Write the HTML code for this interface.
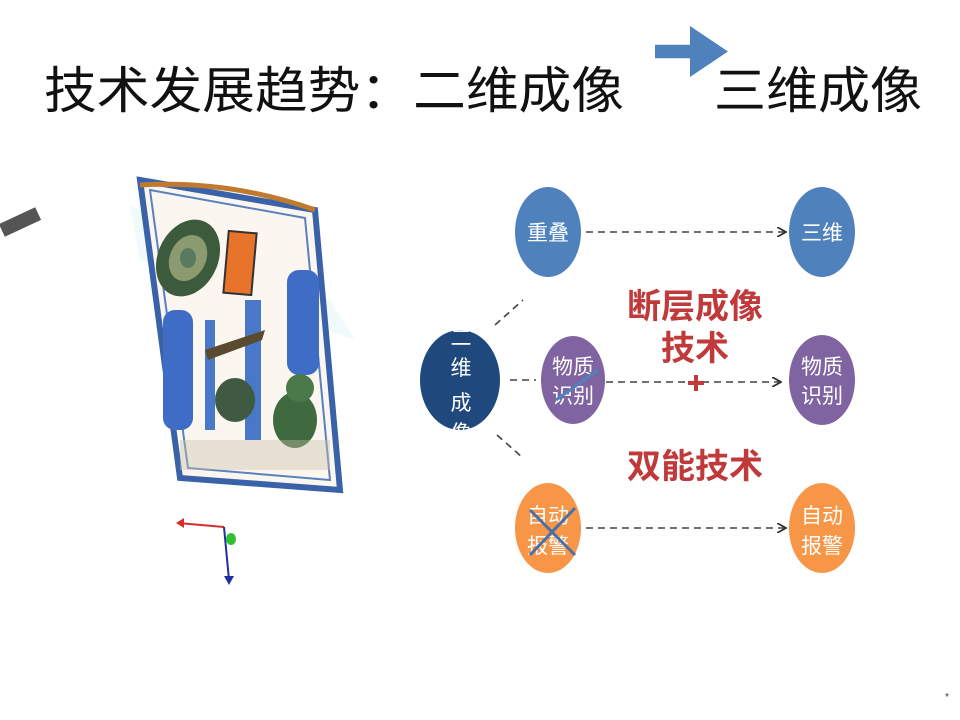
<!DOCTYPE html>
<html><head><meta charset="utf-8"><style>
body{margin:0;background:#fff;}
svg{display:block;font-family:"Liberation Sans","Noto Sans CJK SC",sans-serif;}
</style></head><body>
<svg width="960" height="720" viewBox="0 0 960 720" xmlns="http://www.w3.org/2000/svg">
<defs>
<marker id="ah" markerWidth="10" markerHeight="10" refX="8" refY="5" orient="auto" markerUnits="userSpaceOnUse">
<path d="M0,0 L9,5 L0,10" fill="none" stroke="#333" stroke-width="1.8"/></marker>
</defs>
<!-- title -->
<text x="44" y="108" font-size="50" fill="#111" textLength="580" lengthAdjust="spacingAndGlyphs">技术发展趋势：二维成像</text>
<text x="714" y="108" font-size="50" fill="#111" textLength="208" lengthAdjust="spacingAndGlyphs">三维成像</text>
<polygon points="655,52 690,52 690,30 728,60 690,90 690,68 655,68" fill="#4f81bd" transform="translate(0,-8) scale(1,0.85) translate(0,10)"/>
<!-- suitcase image approximation -->
<g>
<polygon points="130,205 330,300 355,340 140,260" fill="#d8f0f0" opacity="0.35"/>
<polygon points="140,180 315,210 340,490 180,478" fill="#fbf7f0" stroke="#3a62a8" stroke-width="6"/>
<polygon points="150,190 305,218 330,480 188,468" fill="none" stroke="#5a80c0" stroke-width="2"/>
<path d="M140,185 Q230,180 315,210" stroke="#c07a30" stroke-width="5" fill="none"/>
<ellipse cx="188" cy="258" rx="30" ry="40" fill="#3c5a3c" transform="rotate(25 188 258)"/>
<ellipse cx="188" cy="258" rx="18" ry="24" fill="#8c9a70" transform="rotate(25 188 258)"/>
<ellipse cx="188" cy="258" rx="8" ry="10" fill="#5a7a60"/>
<rect x="226" y="232" width="28" height="62" fill="#e8732a" stroke="#333" stroke-width="2" transform="rotate(5 240 263)"/>
<rect x="163" y="310" width="30" height="120" rx="12" fill="#3f6cc4"/>
<rect x="287" y="270" width="32" height="105" rx="12" fill="#3f6cc4"/>
<rect x="245" y="300" width="16" height="140" fill="#4a78c8"/>
<rect x="205" y="320" width="10" height="110" fill="#4a78c8"/>
<path d="M205,350 L265,330 L262,340 L208,360Z" fill="#5a4a30"/>
<ellipse cx="235" cy="400" rx="20" ry="22" fill="#3f5a40"/>
<ellipse cx="295" cy="420" rx="22" ry="28" fill="#3f6a40"/>
<circle cx="300" cy="388" r="14" fill="#4a7a4a"/>
<rect x="180" y="440" width="150" height="30" fill="#c8c0a8" opacity="0.4"/>
<rect x="0" y="215" width="40" height="14" fill="#555" transform="rotate(-25 20 222)"/>
</g>
<!-- axes -->
<line x1="224" y1="527" x2="178" y2="523" stroke="#d43030" stroke-width="2"/>
<path d="M176,523 L184,518 L184,528Z" fill="#d43030"/>
<line x1="224" y1="527" x2="229" y2="580" stroke="#2030a0" stroke-width="2"/>
<path d="M229,585 L224,576 L234,576Z" fill="#2030a0"/>
<ellipse cx="231" cy="539" rx="5" ry="6" fill="#30c030"/>
<!-- connectors -->
<g stroke="#444" stroke-width="1.6" stroke-dasharray="7,5" fill="none">
<line x1="586" y1="232" x2="785" y2="232" marker-end="url(#ah)"/>
<line x1="606" y1="382" x2="780" y2="382" marker-end="url(#ah)"/>
<line x1="586" y1="528" x2="785" y2="528" marker-end="url(#ah)"/>
<line x1="495" y1="325" x2="523" y2="300"/>
<line x1="510" y1="380" x2="536" y2="380"/>
<line x1="497" y1="435" x2="523" y2="458"/>
</g>
<!-- nodes -->
<ellipse cx="548" cy="232" rx="33" ry="45" fill="#4f81bd"/>
<ellipse cx="822" cy="232" rx="33" ry="45" fill="#4f81bd"/>
<ellipse cx="460" cy="380" rx="40" ry="50" fill="#1f497d"/>
<ellipse cx="573" cy="380" rx="32" ry="44" fill="#8064a2"/>
<ellipse cx="822" cy="380" rx="33" ry="45" fill="#8064a2"/>
<ellipse cx="548" cy="528" rx="33" ry="45" fill="#f79646"/>
<ellipse cx="822" cy="528" rx="33" ry="45" fill="#f79646"/>
<g fill="#fff" font-size="21" text-anchor="middle">
<text x="548" y="240">重叠</text>
<text x="822" y="240">三维</text>
<text x="573" y="374">物质</text><text x="573" y="403">识别</text>
<text x="822" y="374">物质</text><text x="822" y="403">识别</text>
<text x="548" y="523">自动</text><text x="548" y="553">报警</text>
<text x="822" y="523">自动</text><text x="822" y="553">报警</text>
<text x="461" y="345">二</text><text x="461" y="375">维</text><text x="461" y="410">成</text><text x="461" y="440">像</text>
</g>
<line x1="556" y1="400" x2="598" y2="370" stroke="#4f81bd" stroke-width="3"/>
<line x1="530" y1="510" x2="575" y2="555" stroke="#4a6fa8" stroke-width="3"/>
<line x1="575" y1="508" x2="530" y2="555" stroke="#4a6fa8" stroke-width="3"/>
<g fill="#c0393b" font-size="34" font-weight="bold" text-anchor="middle">
<text x="695" y="318">断层成像</text>
<text x="695" y="360">技术</text>
<text x="695" y="478">双能技术</text>
</g>
<path d="M688,383 h16 M696,375 v16" stroke="#c0393b" stroke-width="4"/>
<text x="945" y="700" font-size="10" fill="#333">*</text>
</svg>
</body></html>
